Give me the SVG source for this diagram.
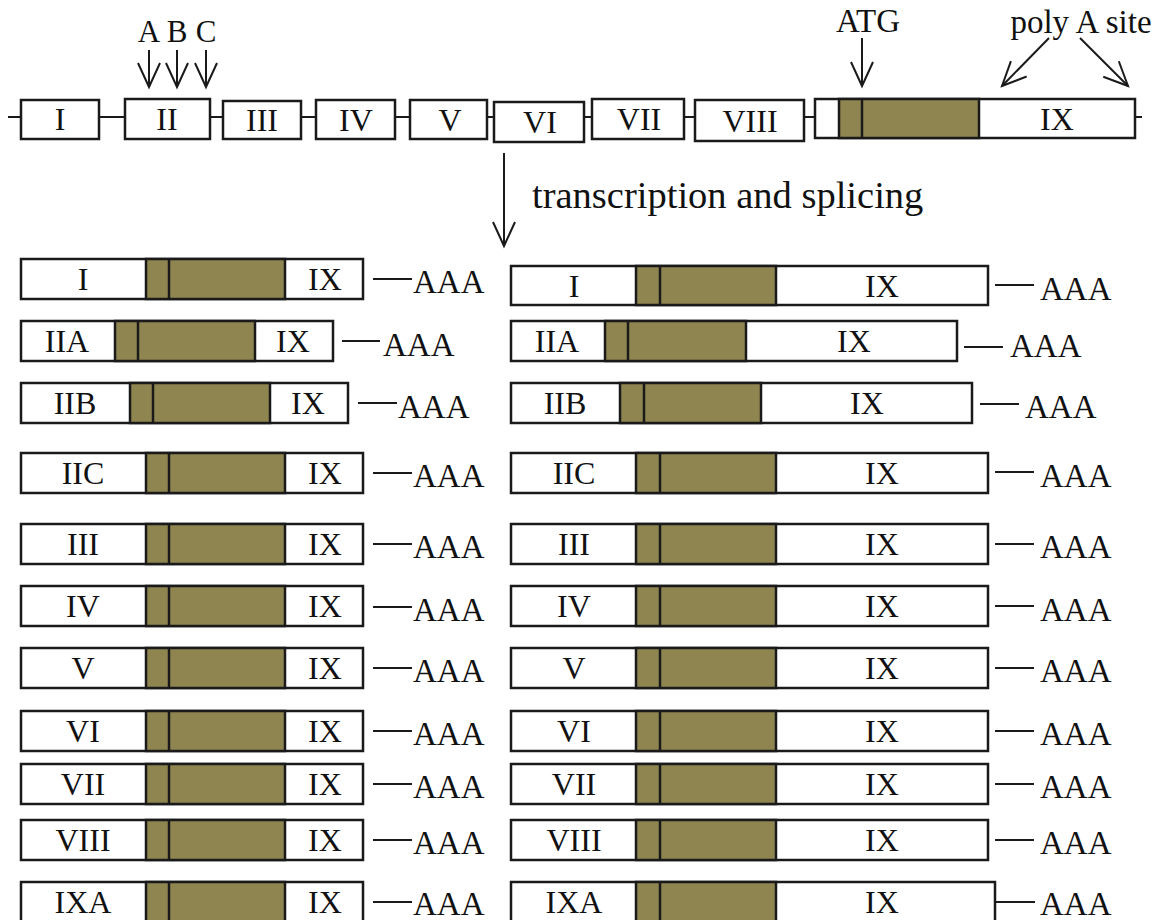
<svg xmlns="http://www.w3.org/2000/svg" width="1159" height="920" viewBox="0 0 1159 920">
<style>
.bx{fill:#fff;stroke:#1a1a1a;stroke-width:2.5}
.br{fill:#8f8551;stroke:#1a1a1a;stroke-width:2.5}
.dv{stroke:#1a1a1a;stroke-width:2.5}
.ln{stroke:#1a1a1a;stroke-width:2;fill:none}
.ar{stroke:#1a1a1a;stroke-width:2;fill:none;marker-end:url(#open)}
text{font-family:"Liberation Serif","Times New Roman",serif;fill:#111}
.t{font-size:32px;text-anchor:middle}
.a{font-size:33px;text-anchor:start}
.big{font-size:38.5px;text-anchor:start}
</style>
<defs>
<marker id="open" viewBox="-30 -15 32 30" markerWidth="32" markerHeight="30" refX="0" refY="0" orient="auto" markerUnits="userSpaceOnUse" overflow="visible">
<path d="M -24 -11 L 0 0 L -24 11" fill="none" stroke="#1a1a1a" stroke-width="2"/>
</marker>
</defs>
<rect x="0" y="0" width="1159" height="920" fill="#fff"/>

<g id="connectors">
<line class="ln" x1="8" y1="117" x2="1142" y2="117"/>
<line class="ar" x1="149" y1="50" x2="149" y2="87"/>
<line class="ar" x1="177" y1="50" x2="177" y2="87"/>
<line class="ar" x1="206" y1="50" x2="206" y2="87"/>
<line class="ar" x1="862" y1="38" x2="862" y2="86"/>
<line class="ar" x1="1049" y1="38" x2="1002" y2="86"/>
<line class="ar" x1="1080" y1="38" x2="1128" y2="86"/>
<line class="ar" x1="504" y1="153" x2="504" y2="246"/>
<line class="ln" x1="373" y1="279" x2="412" y2="279"/>
<line class="ln" x1="342" y1="341" x2="380" y2="341"/>
<line class="ln" x1="358" y1="403" x2="397" y2="403"/>
<line class="ln" x1="373" y1="473" x2="412" y2="473"/>
<line class="ln" x1="373" y1="544" x2="412" y2="544"/>
<line class="ln" x1="373" y1="607" x2="412" y2="607"/>
<line class="ln" x1="373" y1="668" x2="412" y2="668"/>
<line class="ln" x1="373" y1="731" x2="412" y2="731"/>
<line class="ln" x1="373" y1="784" x2="412" y2="784"/>
<line class="ln" x1="373" y1="840" x2="412" y2="840"/>
<line class="ln" x1="373" y1="902" x2="412" y2="902"/>
<line class="ln" x1="995" y1="285" x2="1034" y2="285"/>
<line class="ln" x1="964" y1="347" x2="1003" y2="347"/>
<line class="ln" x1="980" y1="404" x2="1019" y2="404"/>
<line class="ln" x1="995" y1="472" x2="1034" y2="472"/>
<line class="ln" x1="995" y1="544" x2="1034" y2="544"/>
<line class="ln" x1="995" y1="606" x2="1034" y2="606"/>
<line class="ln" x1="995" y1="668" x2="1034" y2="668"/>
<line class="ln" x1="995" y1="731" x2="1034" y2="731"/>
<line class="ln" x1="995" y1="784" x2="1034" y2="784"/>
<line class="ln" x1="995" y1="840" x2="1034" y2="840"/>
<line class="ln" x1="995" y1="902" x2="1035" y2="902"/>
</g>

<g id="labels">
<text class="t" x="149" y="42" style="font-size:31px">A</text>
<text class="t" x="177" y="42" style="font-size:31px">B</text>
<text class="t" x="206" y="42" style="font-size:31px">C</text>
<text class="t" x="868" y="32" style="font-size:33px">ATG</text>
<text class="t" x="1081" y="33" style="font-size:33px">poly A site</text>
<text class="big" x="532" y="208">transcription and splicing</text>
</g>

<g id="gene">
<g id="exon-I"><rect class="bx" x="21" y="100" width="78" height="39"/><text class="t" x="60" y="130">I</text></g>
<g id="exon-II"><rect class="bx" x="125" y="99" width="85" height="40"/><text class="t" x="167" y="130">II</text></g>
<g id="exon-III"><rect class="bx" x="223" y="101" width="78" height="38"/><text class="t" x="262" y="131">III</text></g>
<g id="exon-IV"><rect class="bx" x="316" y="100" width="79" height="39"/><text class="t" x="356" y="131">IV</text></g>
<g id="exon-V"><rect class="bx" x="410" y="100" width="77" height="39"/><text class="t" x="450" y="131">V</text></g>
<g id="exon-VI"><rect class="bx" x="494" y="102" width="90" height="40"/><text class="t" x="540" y="133">VI</text></g>
<g id="exon-VII"><rect class="bx" x="592" y="99" width="92" height="40"/><text class="t" x="639" y="130">VII</text></g>
<g id="exon-VIII"><rect class="bx" x="695" y="100" width="109" height="41"/><text class="t" x="750" y="132">VIII</text></g>
<g id="exon-IX"><rect class="bx" x="815" y="99" width="320" height="39"/><rect class="br" x="839" y="99" width="140" height="39"/><line class="dv" x1="862" y1="99" x2="862" y2="138"/><text class="t" x="1057" y="130">IX</text></g>
</g>

<g id="left-I"><rect class="bx" x="21" y="259" width="342" height="40"/><rect class="br" x="146" y="259" width="139" height="40"/><line class="dv" x1="169" y1="259" x2="169" y2="299"/><text class="t" x="83" y="290">I</text><text class="t" x="325" y="290">IX</text><text class="a" x="413" y="293">AAA</text></g>
<g id="left-IIA"><rect class="bx" x="21" y="321" width="312" height="40"/><rect class="br" x="115" y="321" width="140" height="40"/><line class="dv" x1="138" y1="321" x2="138" y2="361"/><text class="t" x="67" y="352">IIA</text><text class="t" x="293" y="352">IX</text><text class="a" x="383" y="356">AAA</text></g>
<g id="left-IIB"><rect class="bx" x="21" y="383" width="327" height="40"/><rect class="br" x="130" y="383" width="140" height="40"/><line class="dv" x1="153" y1="383" x2="153" y2="423"/><text class="t" x="75" y="414">IIB</text><text class="t" x="308" y="414">IX</text><text class="a" x="398" y="418">AAA</text></g>
<g id="left-IIC"><rect class="bx" x="21" y="453" width="342" height="40"/><rect class="br" x="146" y="453" width="139" height="40"/><line class="dv" x1="169" y1="453" x2="169" y2="493"/><text class="t" x="83" y="484">IIC</text><text class="t" x="325" y="484">IX</text><text class="a" x="413" y="487">AAA</text></g>
<g id="left-III"><rect class="bx" x="21" y="524" width="342" height="40"/><rect class="br" x="146" y="524" width="139" height="40"/><line class="dv" x1="169" y1="524" x2="169" y2="564"/><text class="t" x="83" y="555">III</text><text class="t" x="325" y="555">IX</text><text class="a" x="413" y="558">AAA</text></g>
<g id="left-IV"><rect class="bx" x="21" y="586" width="342" height="40"/><rect class="br" x="146" y="586" width="139" height="40"/><line class="dv" x1="169" y1="586" x2="169" y2="626"/><text class="t" x="83" y="617">IV</text><text class="t" x="325" y="617">IX</text><text class="a" x="413" y="621">AAA</text></g>
<g id="left-V"><rect class="bx" x="21" y="648" width="342" height="40"/><rect class="br" x="146" y="648" width="139" height="40"/><line class="dv" x1="169" y1="648" x2="169" y2="688"/><text class="t" x="83" y="679">V</text><text class="t" x="325" y="679">IX</text><text class="a" x="413" y="682">AAA</text></g>
<g id="left-VI"><rect class="bx" x="21" y="711" width="342" height="40"/><rect class="br" x="146" y="711" width="139" height="40"/><line class="dv" x1="169" y1="711" x2="169" y2="751"/><text class="t" x="83" y="742">VI</text><text class="t" x="325" y="742">IX</text><text class="a" x="413" y="745">AAA</text></g>
<g id="left-VII"><rect class="bx" x="21" y="764" width="342" height="40"/><rect class="br" x="146" y="764" width="139" height="40"/><line class="dv" x1="169" y1="764" x2="169" y2="804"/><text class="t" x="83" y="795">VII</text><text class="t" x="325" y="795">IX</text><text class="a" x="413" y="798">AAA</text></g>
<g id="left-VIII"><rect class="bx" x="21" y="820" width="342" height="40"/><rect class="br" x="146" y="820" width="139" height="40"/><line class="dv" x1="169" y1="820" x2="169" y2="860"/><text class="t" x="83" y="851">VIII</text><text class="t" x="325" y="851">IX</text><text class="a" x="413" y="854">AAA</text></g>
<g id="left-IXA"><rect class="bx" x="21" y="882" width="342" height="40"/><rect class="br" x="146" y="882" width="139" height="40"/><line class="dv" x1="169" y1="882" x2="169" y2="922"/><text class="t" x="83" y="913">IXA</text><text class="t" x="325" y="913">IX</text><text class="a" x="413" y="915">AAA</text></g>

<g id="right-I"><rect class="bx" x="511" y="266" width="477" height="39"/><rect class="br" x="636" y="266" width="140" height="39"/><line class="dv" x1="660" y1="266" x2="660" y2="305"/><text class="t" x="574" y="297">I</text><text class="t" x="882" y="297">IX</text><text class="a" x="1040" y="300">AAA</text></g>
<g id="right-IIA"><rect class="bx" x="511" y="321" width="446" height="40"/><rect class="br" x="605" y="321" width="141" height="40"/><line class="dv" x1="628" y1="321" x2="628" y2="361"/><text class="t" x="557" y="352">IIA</text><text class="t" x="854" y="352">IX</text><text class="a" x="1010" y="357">AAA</text></g>
<g id="right-IIB"><rect class="bx" x="511" y="383" width="461" height="40"/><rect class="br" x="620" y="383" width="141" height="40"/><line class="dv" x1="644" y1="383" x2="644" y2="423"/><text class="t" x="565" y="414">IIB</text><text class="t" x="867" y="414">IX</text><text class="a" x="1025" y="418">AAA</text></g>
<g id="right-IIC"><rect class="bx" x="511" y="453" width="477" height="40"/><rect class="br" x="636" y="453" width="140" height="40"/><line class="dv" x1="660" y1="453" x2="660" y2="493"/><text class="t" x="574" y="484">IIC</text><text class="t" x="882" y="484">IX</text><text class="a" x="1040" y="487">AAA</text></g>
<g id="right-III"><rect class="bx" x="511" y="524" width="477" height="40"/><rect class="br" x="636" y="524" width="140" height="40"/><line class="dv" x1="660" y1="524" x2="660" y2="564"/><text class="t" x="574" y="555">III</text><text class="t" x="882" y="555">IX</text><text class="a" x="1040" y="558">AAA</text></g>
<g id="right-IV"><rect class="bx" x="511" y="586" width="477" height="40"/><rect class="br" x="636" y="586" width="140" height="40"/><line class="dv" x1="660" y1="586" x2="660" y2="626"/><text class="t" x="574" y="617">IV</text><text class="t" x="882" y="617">IX</text><text class="a" x="1040" y="621">AAA</text></g>
<g id="right-V"><rect class="bx" x="511" y="648" width="477" height="40"/><rect class="br" x="636" y="648" width="140" height="40"/><line class="dv" x1="660" y1="648" x2="660" y2="688"/><text class="t" x="574" y="679">V</text><text class="t" x="882" y="679">IX</text><text class="a" x="1040" y="682">AAA</text></g>
<g id="right-VI"><rect class="bx" x="511" y="711" width="477" height="40"/><rect class="br" x="636" y="711" width="140" height="40"/><line class="dv" x1="660" y1="711" x2="660" y2="751"/><text class="t" x="574" y="742">VI</text><text class="t" x="882" y="742">IX</text><text class="a" x="1040" y="745">AAA</text></g>
<g id="right-VII"><rect class="bx" x="511" y="764" width="477" height="40"/><rect class="br" x="636" y="764" width="140" height="40"/><line class="dv" x1="660" y1="764" x2="660" y2="804"/><text class="t" x="574" y="795">VII</text><text class="t" x="882" y="795">IX</text><text class="a" x="1040" y="798">AAA</text></g>
<g id="right-VIII"><rect class="bx" x="511" y="820" width="477" height="40"/><rect class="br" x="636" y="820" width="140" height="40"/><line class="dv" x1="660" y1="820" x2="660" y2="860"/><text class="t" x="574" y="851">VIII</text><text class="t" x="882" y="851">IX</text><text class="a" x="1040" y="854">AAA</text></g>
<g id="right-IXA"><rect class="bx" x="511" y="882" width="484" height="40"/><rect class="br" x="636" y="882" width="140" height="40"/><line class="dv" x1="660" y1="882" x2="660" y2="922"/><text class="t" x="574" y="913">IXA</text><text class="t" x="882" y="913">IX</text><text class="a" x="1040" y="915">AAA</text></g>
</svg>
